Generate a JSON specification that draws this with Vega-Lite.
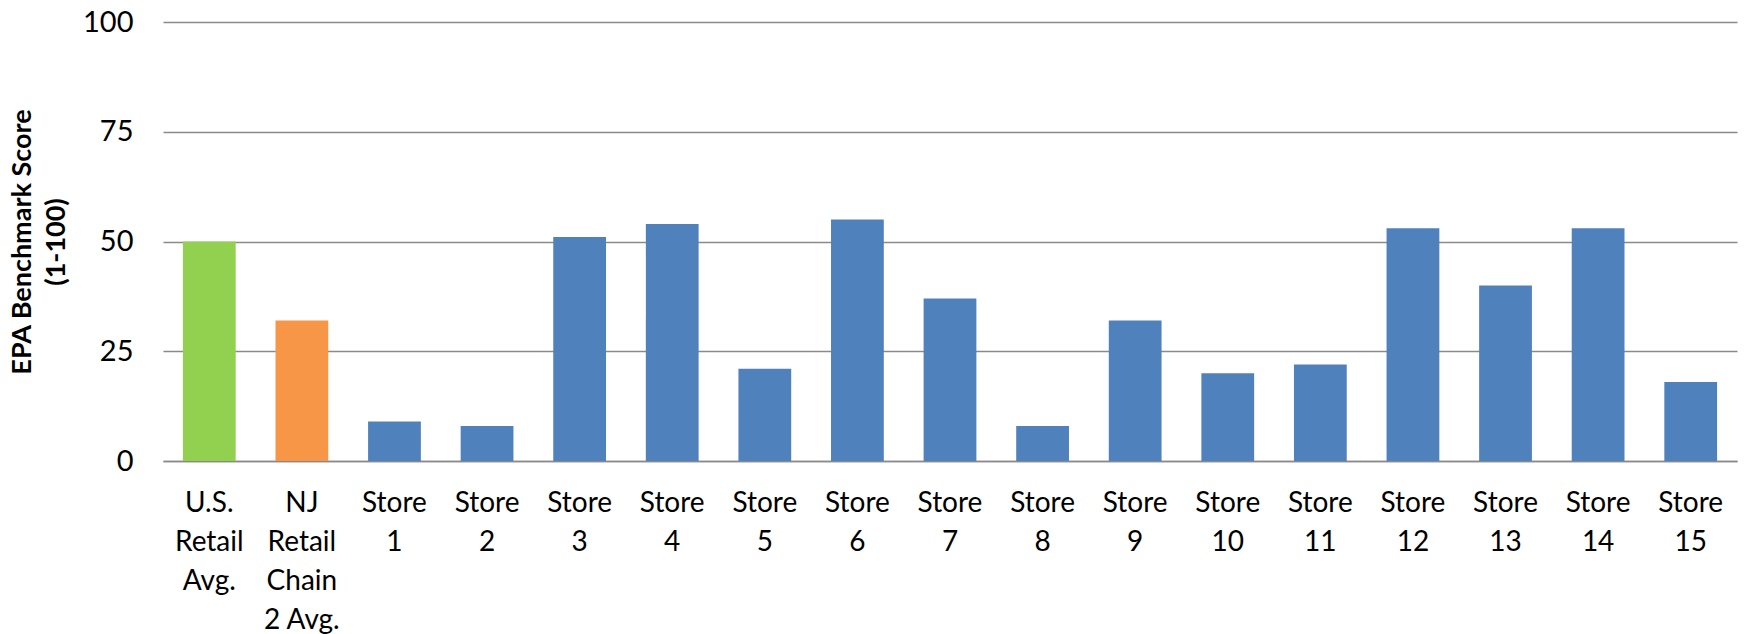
{
  "$schema": "https://vega.github.io/schema/vega-lite/v6.json",
  "autosize": {"type": "none"},
  "width": 1574,
  "height": 439,
  "padding": {"left": 163, "top": 22, "right": 9, "bottom": 173},
  "background": "white",
  "config": {
    "view": {"stroke": null},
    "font": "Lato",
    "axis": {"labelFont": "Lato", "titleFont": "Lato"}
  },
  "data": {
    "values": [
      {"name": "U.S.|Retail|Avg.", "group": "us", "score": 50},
      {"name": "NJ|Retail|Chain|2 Avg.", "group": "nj", "score": 32},
      {"name": "Store|1", "group": "store", "score": 9},
      {"name": "Store|2", "group": "store", "score": 8},
      {"name": "Store|3", "group": "store", "score": 51},
      {"name": "Store|4", "group": "store", "score": 54},
      {"name": "Store|5", "group": "store", "score": 21},
      {"name": "Store|6", "group": "store", "score": 55},
      {"name": "Store|7", "group": "store", "score": 37},
      {"name": "Store|8", "group": "store", "score": 8},
      {"name": "Store|9", "group": "store", "score": 32},
      {"name": "Store|10", "group": "store", "score": 20},
      {"name": "Store|11", "group": "store", "score": 22},
      {"name": "Store|12", "group": "store", "score": 53},
      {"name": "Store|13", "group": "store", "score": 40},
      {"name": "Store|14", "group": "store", "score": 53},
      {"name": "Store|15", "group": "store", "score": 18}
    ]
  },
  "mark": {"type": "bar"},
  "encoding": {
    "x": {
      "field": "name",
      "type": "nominal",
      "sort": null,
      "scale": {"paddingInner": 0.43, "paddingOuter": 0.215},
      "axis": {
        "title": null,
        "labelAngle": 0,
        "labelExpr": "split(datum.label, '|')",
        "labelFontSize": 28,
        "labelColor": "#000000",
        "labelLineHeight": 39,
        "labelPadding": 28,
        "labelBaseline": "top",
        "labelAlign": "center",
        "labelLimit": 0,
        "ticks": false,
        "domainColor": "#8a8a8a",
        "domainWidth": 1.5,
        "grid": false
      }
    },
    "y": {
      "field": "score",
      "type": "quantitative",
      "scale": {"domain": [0, 100], "nice": false},
      "axis": {
        "values": [0, 25, 50, 75, 100],
        "title": ["EPA Benchmark Score", "(1-100)"],
        "titleFontSize": 27,
        "titleFontWeight": "bold",
        "titleColor": "#000000",
        "titleLineHeight": 34,
        "titlePadding": 12,
        "labelFontSize": 29,
        "labelColor": "#000000",
        "labelPadding": 30,
        "ticks": false,
        "domain": false,
        "grid": true,
        "gridColor": "#8a8a8a",
        "gridWidth": 1.5
      }
    },
    "color": {
      "field": "group",
      "type": "nominal",
      "scale": {"domain": ["us", "nj", "store"], "range": ["#92D050", "#F79646", "#4F81BD"]},
      "legend": null
    }
  }
}
